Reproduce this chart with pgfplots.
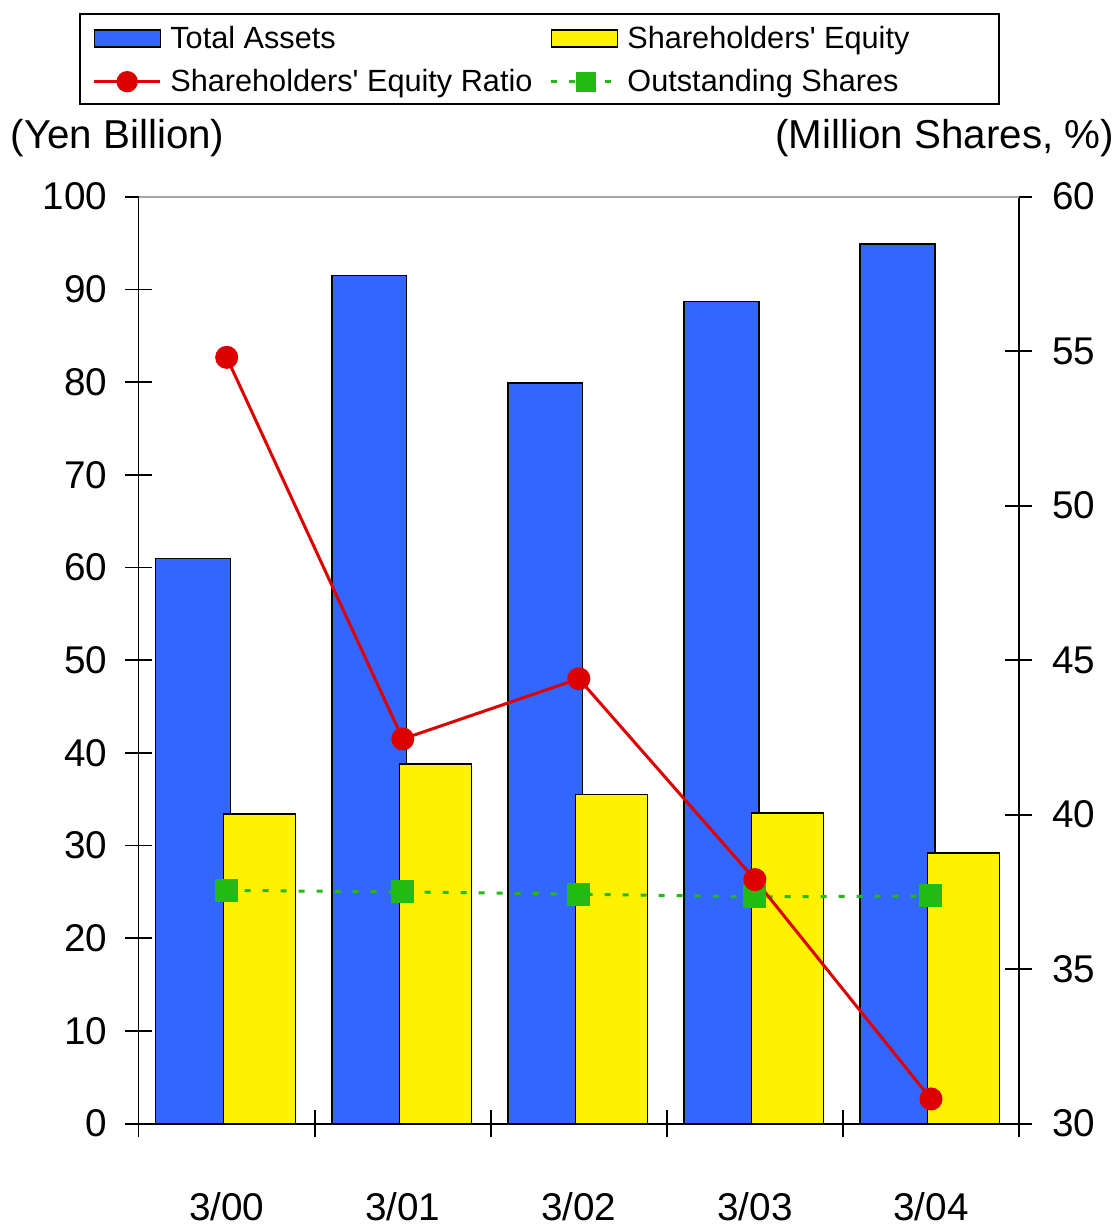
\documentclass[border=0pt]{standalone}
\usepackage{fontspec}
\setmainfont{Liberation Sans}
\usepackage{pgfplots}
\pgfplotsset{compat=1.18}
\definecolor{cBlue}{HTML}{3366FF}
\definecolor{cYellow}{HTML}{FFF200}
\definecolor{cRed}{HTML}{DD0000}
\definecolor{cGreen}{HTML}{22BB11}
\begin{document}
\begin{tikzpicture}
\useasboundingbox (-41.6pt,-30.7pt) rectangle (292.9pt,337.1pt);
\pgfplotsset{
  common/.style={
    width=264.1pt, height=278.1pt, scale only axis,
    at={(0,0)}, anchor=south west,
    xmin=-0.5, xmax=4.5,
    /pgf/number format/assume math mode=true,
    tick align=center,
    major tick length=8.1pt,
    minor tick length=8.1pt,
    tick style={black, line width=0.5pt},
    ticklabel style={font=\fontsize{11.6}{13}\selectfont},
  }
}
\begin{axis}[common,
  ymin=0, ymax=100, ytick={0,10,...,100},
  axis x line*=bottom, axis y line*=left,
  axis line style={-, black, line width=0.5pt},
  xtick={0,1,2,3,4}, xticklabels={3/00,3/01,3/02,3/03,3/04},
  major x tick style={draw=none},
  minor xtick={-0.5,0.5,1.5,2.5,3.5,4.5},
  xticklabel style={anchor=base, inner sep=0pt, yshift=-24.9pt},
  yticklabel style={anchor=east, inner sep=0pt, xshift=-5.1pt},
]
\addplot[ybar, bar width=0.425, bar shift=-0.19, fill=cBlue, draw=black, line width=0.4pt]
  coordinates {(0,61.0) (1,91.5) (2,79.9) (3,88.7) (4,94.9)};
\addplot[ybar, bar width=0.41, bar shift=0.185, fill=cYellow, draw=black, line width=0.4pt]
  coordinates {(0,33.4) (1,38.8) (2,35.5) (3,33.5) (4,29.2)};
\end{axis}
\begin{axis}[common,
  ymin=30, ymax=60, ytick={30,35,...,60},
  axis y line*=right, axis x line=none,
  axis line style={-, black, line width=0.5pt},
  yticklabel style={anchor=west, inner sep=0pt, xshift=5.8pt},
  legend columns=2,
  legend cell align=left,
  legend style={at={(-0.053,1.1444)}, anchor=west, draw=none, fill=none,
    inner sep=0pt, font=\fontsize{9.2}{11}\selectfont,
    row sep=4.5pt, column sep=2.6pt,
    nodes={inner sep=0pt, text height=6.5pt, text depth=1.9pt},
    /tikz/every even column/.append style={column sep=5.2pt}},
]
\addlegendimage{legend image code/.code={\draw[fill=cBlue, draw=black, line width=0.4pt] (0pt,-1.75pt) rectangle (19.8pt,3.35pt);}}
\addlegendentry{Total Assets}
\addlegendimage{legend image code/.code={\draw[fill=cYellow, draw=black, line width=0.4pt] (0pt,-1.75pt) rectangle (19.8pt,3.35pt);}}
\addlegendentry{Shareholders\textquotesingle\ Equity}
\addlegendimage{legend image code/.code={\draw[cRed, line width=0.9pt] (0pt,0.8pt) -- (19.8pt,0.8pt); \fill[cRed] (9.9pt,0.8pt) circle (3pt);}}
\addlegendentry{Shareholders\textquotesingle\ Equity Ratio}
\addlegendimage{legend image code/.code={\draw[cGreen, line width=0.9pt, dash pattern=on 1.8pt off 3.6pt] (0pt,0.8pt) -- (19.8pt,0.8pt); \fill[cGreen] (7.5pt,-2pt) rectangle (13.1pt,3.6pt);}}
\addlegendentry{Outstanding Shares}
\addplot[cGreen, line width=0.9pt, dash pattern=on 1.8pt off 3.6pt, mark=square*, mark size=3pt, mark options={solid}, forget plot]
  coordinates {(0,37.55) (1,37.5) (2,37.43) (3,37.34) (4,37.37)};
\addplot[cRed, line width=0.9pt, mark=*, mark size=3pt, forget plot]
  coordinates {(0,54.8) (1,42.45) (2,44.4) (3,37.9) (4,30.8)};
\end{axis}
\draw[gray!70, line width=0.5pt] (0,278.1pt) -- (264.1pt,278.1pt);
\draw[black, line width=0.5pt] (-17.6pt,305.9pt) rectangle (258.1pt,332.9pt);
\node[anchor=base west, inner sep=0pt, font=\fontsize{12.1}{14}\selectfont] at (-38.6pt,292.7pt) {(Yen Billion)};
\node[anchor=base east, inner sep=0pt, font=\fontsize{12.1}{14}\selectfont] at (292.8pt,292.7pt) {(Million Shares, \%)};
\end{tikzpicture}
\end{document}
